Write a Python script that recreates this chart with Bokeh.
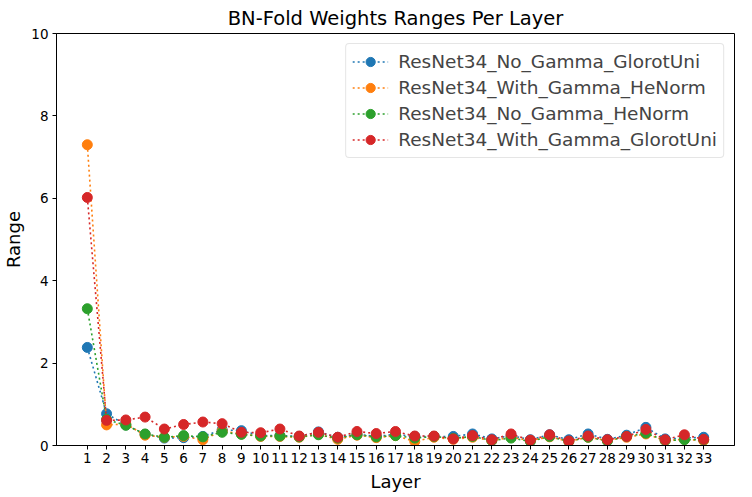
from bokeh.plotting import figure
from bokeh.models import Range1d, FixedTicker
from bokeh.embed import file_html
from bokeh.resources import INLINE

layers = list(range(1, 34))
series_names = ["ResNet34_No_Gamma_GlorotUni", "ResNet34_With_Gamma_HeNorm",
                "ResNet34_No_Gamma_HeNorm", "ResNet34_With_Gamma_GlorotUni"]
colors = ["#1f77b4", "#ff7f0e", "#2ca02c", "#d62728"]

no_gamma_glorot = [2.38, 0.77, 0.50, 0.27, 0.18, 0.19, 0.22, 0.38, 0.36, 0.24, 0.24, 0.22, 0.33,
                   0.20, 0.27, 0.22, 0.27, 0.22, 0.22, 0.22, 0.28, 0.16, 0.24, 0.14, 0.26, 0.14,
                   0.28, 0.15, 0.25, 0.44, 0.16, 0.18, 0.20]
with_gamma_he = [7.30, 0.50, 0.52, 0.25, 0.20, 0.22, 0.14, 0.35, 0.28, 0.22, 0.22, 0.20, 0.27,
                 0.15, 0.25, 0.19, 0.24, 0.10, 0.20, 0.15, 0.20, 0.12, 0.20, 0.12, 0.21, 0.10,
                 0.20, 0.12, 0.20, 0.28, 0.12, 0.15, 0.12]
no_gamma_he = [3.32, 0.63, 0.49, 0.28, 0.20, 0.24, 0.21, 0.32, 0.27, 0.23, 0.23, 0.21, 0.26,
               0.18, 0.26, 0.21, 0.24, 0.18, 0.22, 0.17, 0.22, 0.12, 0.18, 0.10, 0.22, 0.10,
               0.20, 0.11, 0.22, 0.30, 0.12, 0.14, 0.14]
with_gamma_glorot = [6.02, 0.61, 0.62, 0.69, 0.40, 0.51, 0.57, 0.53, 0.32, 0.31, 0.40, 0.23, 0.32,
                     0.20, 0.34, 0.29, 0.34, 0.23, 0.23, 0.16, 0.24, 0.14, 0.28, 0.13, 0.26, 0.11,
                     0.23, 0.14, 0.22, 0.39, 0.14, 0.26, 0.15]
y_ticks = [0, 2, 4, 6, 8, 10]

FONT = "DejaVu Sans"

p = figure(frame_width=678, frame_height=412, output_backend="svg", toolbar_location=None,
           x_range=Range1d(-0.6, 34.6), y_range=Range1d(0, 10),
           min_border_left=48, min_border_right=10, min_border_top=29, min_border_bottom=40,
           title="BN-Fold Weights Ranges Per Layer")
p.title.align = "center"
p.title.text_font = FONT
p.title.text_font_style = "normal"
p.title.text_font_size = "19.5px"
p.title.text_color = "black"
p.title.standoff = 8

p.xgrid.visible = False
p.ygrid.visible = False
p.outline_line_color = "black"
p.outline_line_width = 1

for ax in (p.xaxis[0], p.yaxis[0]):
    ax.major_label_text_font = FONT
    ax.major_label_text_font_size = "13.5px"
    ax.major_label_text_color = "black"
    ax.axis_label_text_font = FONT
    ax.axis_label_text_font_size = "18px"
    ax.axis_label_text_font_style = "normal"
    ax.axis_label_text_color = "black"
    ax.minor_tick_line_color = None
    ax.major_tick_out = 4
    ax.major_tick_in = 0
    ax.axis_line_color = "black"
    ax.major_tick_line_color = "black"

p.xaxis.axis_label = "Layer"
p.yaxis.axis_label = "Range"
p.xaxis.ticker = FixedTicker(ticks=layers)
p.yaxis.ticker = FixedTicker(ticks=y_ticks)
p.xaxis.major_label_standoff = 3
p.yaxis.major_label_standoff = 4
p.xaxis.axis_label_standoff = 5
p.yaxis.axis_label_standoff = 4

all_series = [no_gamma_glorot, with_gamma_he, no_gamma_he, with_gamma_glorot]
for name, col, vals in zip(series_names, colors, all_series):
    p.line(layers, vals, line_color=col, line_width=1.6, line_dash="2 3", legend_label=name)
    p.scatter(layers, vals, size=10, fill_color=col, line_color=col, legend_label=name)

lg = p.legend[0]
lg.location = "top_right"
lg.margin = 10
lg.padding = 6
lg.spacing = 3
lg.label_height = 23
lg.glyph_height = 23
lg.glyph_width = 36
lg.label_standoff = 10
lg.label_text_font = FONT
lg.label_text_font_size = "18.5px"
lg.border_line_color = "#cccccc"
lg.border_radius = 4
lg.background_fill_alpha = 0.8

open("out.html", "w").write(file_html(p, INLINE))
